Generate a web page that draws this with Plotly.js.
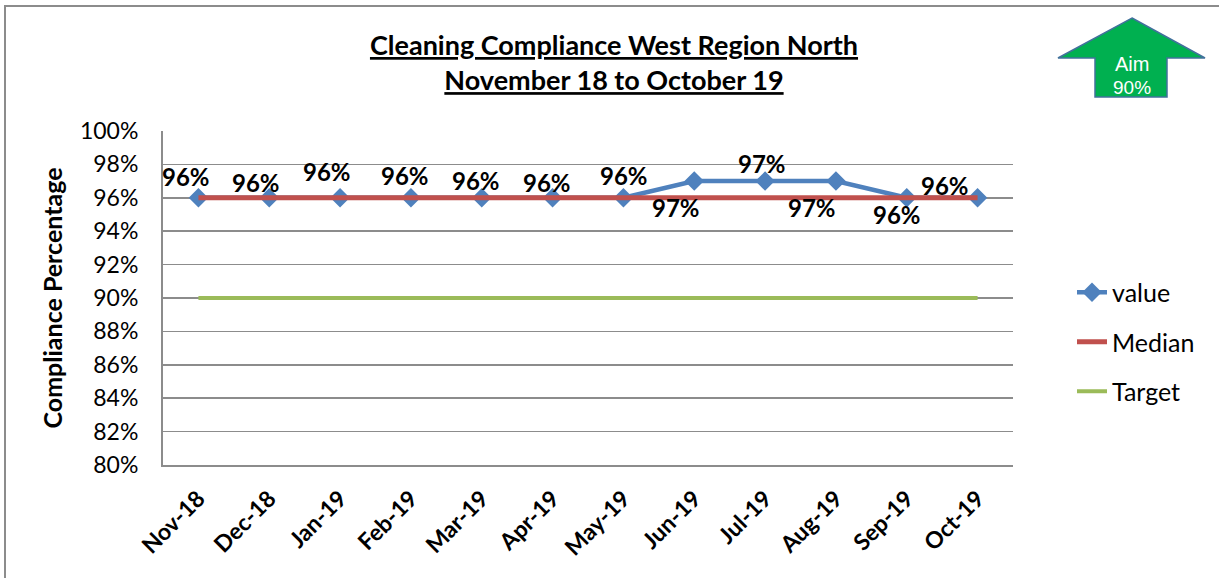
<!DOCTYPE html>
<html>
<head>
<meta charset="utf-8">
<script src="https://cdn.plot.ly/plotly-3.0.1.min.js"></script>
<style>html,body{margin:0;padding:0;background:#fff;}#chart{width:1219px;height:578px;}</style>
</head>
<body>
<div id="chart"></div>
<script>
// ---- data ----
const months = ["Nov-18","Dec-18","Jan-19","Feb-19","Mar-19","Apr-19","May-19","Jun-19","Jul-19","Aug-19","Sep-19","Oct-19"];
const values = [96,96,96,96,96,96,96,97,97,97,96,96];
const median = [96,96,96,96,96,96,96,96,96,96,96,96];
const target = [90,90,90,90,90,90,90,90,90,90,90,90];
const aimText = ["Aim","90%"];

// ---- label placement (pixel offsets, style only) ----
const labelDx = [-12,-13,-13,-6,-6,-6,1,-18,-3,-24,-10,-33];
const labelDy = [-21,-15,-26,-22,-17,-15,-22,26,-18,26,17,-12];

const FONT = "Lato, 'Noto Sans', sans-serif";
const W = 1219, H = 578;
const L = 163, R = 1013, T = 131, B = 465;
const px = x => (x - L) / (R - L);
const py = y => (B - y) / (B - T);

const traces = [
  {x: months, y: values, name: "value", type: "scatter", mode: "lines+markers",
   line: {color: "#4f81bd", width: 4.5}, marker: {symbol: "diamond", size: 15, color: "#4f81bd"},
   legendgroup: "a"},
  {x: months, y: median, name: "Median", type: "scatter", mode: "lines",
   line: {color: "#c0504d", width: 5}, legendgroup: "b"},
  {x: months, y: target, name: "Target", type: "scatter", mode: "lines",
   line: {color: "#9bbb59", width: 4}, legendgroup: "c"}
];

const annotations = values.map((v, i) => ({
  x: months[i], y: v, xref: "x", yref: "y", text: "<b>" + v + "%</b>",
  showarrow: false, xshift: labelDx[i], yshift: -labelDy[i],
  xanchor: "center", yanchor: "middle",
  font: {family: FONT, size: 24, color: "#000"}
}));
annotations.push({
  x: px(1132), y: py(64), xref: "paper", yref: "paper", text: aimText[0], showarrow: false,
  xanchor: "center", yanchor: "middle",
  font: {family: "Liberation Sans, Arial, sans-serif", size: 20, color: "#fff"}
});
annotations.push({
  x: px(1132), y: py(87), xref: "paper", yref: "paper", text: aimText[1], showarrow: false,
  xanchor: "center", yanchor: "middle",
  font: {family: "Liberation Sans, Arial, sans-serif", size: 19, color: "#fff"}
});

const arrowPts = [[1132,18],[1205,58],[1167,58],[1167,97],[1095,97],[1095,58],[1058,58]];
const arrowPath = arrowPts.map((p, i) => (i ? "L" : "M") + px(p[0]) + "," + py(p[1])).join(" ") + " Z";

const shapes = [
  {type: "rect", xref: "paper", yref: "paper", x0: px(5), y0: py(6), x1: px(1230), y1: py(590),
   line: {color: "#8c8c8c", width: 2}, layer: "below"},
  {type: "path", xref: "paper", yref: "paper", path: arrowPath,
   fillcolor: "#00b050", line: {color: "#41719c", width: 1.5}}
];

const layout = {
  width: W, height: H,
  margin: {l: L, r: W - R, t: T, b: H - B, pad: 0},
  paper_bgcolor: "#fff", plot_bgcolor: "#fff",
  title: {text: "<b><u>Cleaning Compliance West Region North</u></b><br><b><u>November 18 to October 19</u></b>",
          font: {family: FONT, size: 27, color: "#000"}, x: 614 / W, xanchor: "center",
          y: 1 - 55 / H, yanchor: "top", xref: "container", yref: "container"},
  xaxis: {type: "category", range: [-0.5, 11.5], tickangle: -45, showgrid: false,
          showline: true, linecolor: "#8c8c8c", linewidth: 2, ticks: "",
          tickfont: {family: FONT, size: 23, color: "#000", weight: "bold"},
          ticklabelstandoff: 9, fixedrange: true},
  yaxis: {range: [80, 100], dtick: 2, ticksuffix: "%", showgrid: true, gridcolor: "#8c8c8c", gridwidth: 1.5,
          showline: true, linecolor: "#8c8c8c", linewidth: 2, ticks: "", zeroline: false,
          tickfont: {family: FONT, size: 23, color: "#000"}, ticklabelstandoff: 18,
          title: {text: "<b>Compliance Percentage</b>", font: {family: FONT, size: 25, color: "#000"}, standoff: 10}},
  showlegend: true,
  legend: {x: px(1072), xanchor: "left", y: py(342), yanchor: "middle",
           font: {family: FONT, size: 25, color: "#000"}, tracegroupgap: 14, bgcolor: "rgba(0,0,0,0)"},
  annotations: annotations,
  shapes: shapes
};

Plotly.newPlot("chart", traces, layout, {displayModeBar: false, staticPlot: true});
</script>
</body>
</html>
